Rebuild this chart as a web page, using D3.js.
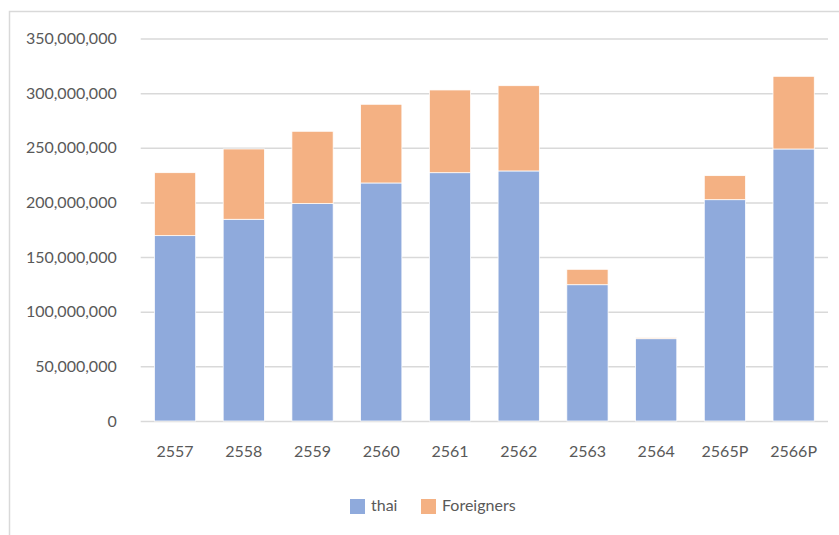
<!DOCTYPE html>
<html>
<head>
<meta charset="utf-8">
<script src="https://cdn.jsdelivr.net/npm/d3@7"></script>
<style>
  html, body { margin: 0; padding: 0; background: #fff; }
  svg { display: block; }
  text { font-family: Lato, "Open Sans", sans-serif; fill: #595959; }
</style>
</head>
<body>
<svg id="chart" width="839" height="535"></svg>
<script>
// Visitors per year (Buddhist Era), stacked: Thai + foreign
const categories = ["2557", "2558", "2559", "2560", "2561", "2562", "2563", "2564", "2565P", "2566P"];
const thai       = [169600000, 184600000, 198900000, 217800000, 227200000, 228800000, 124700000, 75300000, 202500000, 248900000];
const foreigners = [57600000, 64300000, 66200000, 72000000, 75700000, 78000000, 14100000, 900000, 22000000, 66500000];
const yTicks     = [0, 50000000, 100000000, 150000000, 200000000, 250000000, 300000000, 350000000];
const seriesNames  = ["thai", "Foreigners"];
const seriesColors = ["#8faadc", "#f4b183"];

const svg = d3.select("#chart");

// outer frame of the chart area
svg.append("rect")
  .attr("x", 9.5).attr("y", 11.5)
  .attr("width", 900).attr("height", 600)
  .attr("fill", "none").attr("stroke", "#d9d9d9").attr("stroke-width", 1.5);

const plot = { left: 140.7, right: 828, top: 38.5, bottom: 421 };

const x = d3.scaleBand().domain(categories).range([plot.left, plot.right]).paddingInner(0.4).paddingOuter(0.2);
const y = d3.scaleLinear().domain([0, 350000000]).range([plot.bottom, plot.top]);

// gridlines + y labels
const yAxis = d3.axisLeft(y).tickValues(yTicks).tickSize(-(plot.right - plot.left)).tickPadding(24)
  .tickFormat(d3.format(","));
const gy = svg.append("g").attr("transform", `translate(${plot.left},0)`).call(yAxis);
gy.select(".domain").remove();
gy.selectAll(".tick line").attr("stroke", "#d9d9d9").attr("stroke-width", 1.5);
gy.selectAll(".tick text").attr("font-size", 16).attr("fill", "#595959")
  .style("font-family", "Lato, 'Open Sans', sans-serif");

// stacked bars
const rows = categories.map((c, i) => ({ cat: c, thai: thai[i], Foreigners: foreigners[i] }));
const stacked = d3.stack().keys(seriesNames)(rows);

svg.append("g").selectAll("g")
  .data(stacked)
  .join("g")
  .attr("fill", (d, i) => seriesColors[i])
  .selectAll("rect")
  .data(d => d)
  .join("rect")
  .attr("x", d => x(d.data.cat))
  .attr("width", x.bandwidth())
  .attr("y", d => y(d[1]))
  .attr("height", d => y(d[0]) - y(d[1]))
  .attr("stroke", "#fff").attr("stroke-width", 0.75);

// x axis labels
const xAxis = d3.axisBottom(x).tickSize(0).tickPadding(25);
const gx = svg.append("g").attr("transform", `translate(0,${plot.bottom})`).call(xAxis);
gx.select(".domain").remove();
gx.selectAll(".tick text").attr("font-size", 16).attr("fill", "#595959")
  .style("font-family", "Lato, 'Open Sans', sans-serif");

// legend
const legendItems = [
  { name: seriesNames[0], color: seriesColors[0], x: 350 },
  { name: seriesNames[1], color: seriesColors[1], x: 421 }
];
const lg = svg.append("g");
legendItems.forEach(it => {
  lg.append("rect").attr("x", it.x).attr("y", 499).attr("width", 15).attr("height", 15).attr("fill", it.color);
  lg.append("text").attr("x", it.x + 21).attr("y", 511).attr("font-size", 16).text(it.name);
});
</script>
</body>
</html>
